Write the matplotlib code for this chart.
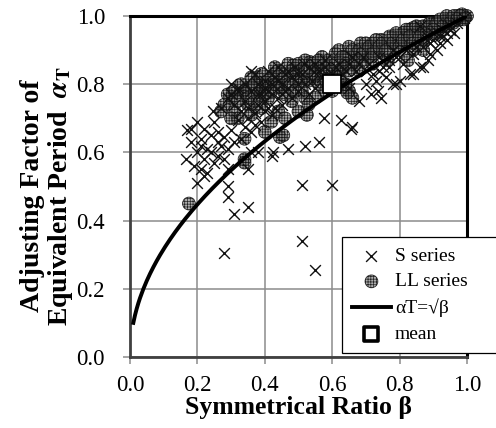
import matplotlib
matplotlib.use("Agg")
import matplotlib.pyplot as plt
import numpy as np

plt.rcParams['font.family'] = ['Liberation Serif', 'DejaVu Serif']
plt.rcParams['mathtext.fontset'] = 'stix'
plt.rcParams['hatch.linewidth'] = 0.5

# S series (beta, alpha_T)
s_beta = [0.165, 0.18, 0.20, 0.18, 0.21, 0.19, 0.21, 0.20, 0.22, 0.23, 0.25, 0.22, 0.26, 0.27, 0.28,
          0.30, 0.25, 0.245, 0.27, 0.31, 0.32, 0.34, 0.36, 0.37, 0.34, 0.30, 0.36, 0.38, 0.29, 0.17,
          0.20, 0.23, 0.24, 0.22, 0.26, 0.28, 0.29, 0.31, 0.33, 0.35, 0.32, 0.29, 0.33, 0.35, 0.38,
          0.39, 0.37, 0.26, 0.24, 0.21,
          0.28, 0.29, 0.29, 0.31, 0.35, 0.35, 0.42, 0.47, 0.52, 0.56, 0.425, 0.51, 0.55, 0.51, 0.60,
          0.40, 0.41, 0.45, 0.48, 0.515, 0.545, 0.575, 0.625, 0.655, 0.66, 0.40, 0.42, 0.43, 0.44, 0.46,
          0.38, 0.39, 0.41, 0.44, 0.47, 0.50, 0.52, 0.55, 0.57, 0.58, 0.60, 0.62, 0.64, 0.66, 0.68,
          0.50, 0.43, 0.45, 0.48, 0.36, 0.37, 0.40, 0.42, 0.53, 0.55,
          0.68, 0.715, 0.735, 0.745, 0.78, 0.79, 0.80, 0.83, 0.84, 0.86, 0.87, 0.885, 0.89, 0.92, 0.94,
          0.70, 0.72, 0.75, 0.77, 0.80, 0.82, 0.85, 0.88, 0.90, 0.93, 0.95, 0.97, 0.99, 0.76, 0.73,
          0.65, 0.63, 0.70, 0.74, 0.78, 0.96, 0.91, 0.86, 0.88, 0.90, 0.93, 0.94,
          0.34, 0.36, 0.38, 0.40, 0.41, 0.42, 0.44, 0.45, 0.46, 0.47, 0.49, 0.50, 0.51, 0.53, 0.54,
          0.56, 0.58, 0.59, 0.61, 0.63, 0.65, 0.67, 0.69, 0.71, 0.74, 0.77, 0.79, 0.81, 0.84, 0.87,
          0.89, 0.92, 0.95, 0.32, 0.30]
s_alpha = [0.58, 0.67, 0.69, 0.63, 0.64, 0.56, 0.55, 0.51, 0.53, 0.54, 0.57, 0.58, 0.63, 0.62, 0.645,
           0.665, 0.69, 0.72, 0.73, 0.74, 0.695, 0.675, 0.66, 0.715, 0.75, 0.77, 0.60, 0.60, 0.55, 0.665,
           0.60, 0.61, 0.65, 0.67, 0.59, 0.58, 0.61, 0.63, 0.64, 0.70, 0.78, 0.76, 0.72, 0.73, 0.74,
           0.69, 0.68, 0.66, 0.60, 0.62,
           0.305, 0.50, 0.47, 0.42, 0.44, 0.55, 0.59, 0.61, 0.62, 0.63, 0.60, 0.34, 0.255, 0.505, 0.505,
           0.81, 0.78, 0.80, 0.82, 0.86, 0.835, 0.70, 0.695, 0.67, 0.675, 0.75, 0.77, 0.82, 0.76, 0.78,
           0.80, 0.77, 0.84, 0.85, 0.84, 0.83, 0.80, 0.86, 0.82, 0.85, 0.83, 0.86, 0.84, 0.88, 0.86,
           0.78, 0.73, 0.74, 0.76, 0.78, 0.83, 0.72, 0.71, 0.77, 0.79,
           0.75, 0.77, 0.78, 0.76, 0.80, 0.80, 0.81, 0.83, 0.83, 0.85, 0.85, 0.87, 0.89, 0.92, 0.93,
           0.80, 0.83, 0.85, 0.87, 0.88, 0.90, 0.91, 0.93, 0.95, 0.96, 0.97, 0.98, 0.995, 0.82, 0.81,
           0.79, 0.80, 0.84, 0.88, 0.90, 0.95, 0.90, 0.97, 0.94, 0.93, 0.94, 0.95,
           0.80, 0.84, 0.77, 0.79, 0.73, 0.80, 0.81, 0.77, 0.83, 0.79, 0.85, 0.80, 0.83, 0.85, 0.81,
           0.84, 0.87, 0.82, 0.85, 0.83, 0.86, 0.84, 0.88, 0.86, 0.84, 0.85, 0.88, 0.86, 0.89, 0.91,
           0.92, 0.94, 0.96, 0.79, 0.80]

# LL series (beta, alpha_T)
ll_beta = [0.175, 0.34, 0.445, 0.40, 0.34, 0.34, 0.455, 0.525, 0.65, 0.66, 0.645,
           0.28, 0.30, 0.31, 0.33, 0.35, 0.36, 0.37, 0.38, 0.39, 0.40, 0.32, 0.35, 0.30, 0.27, 0.39, 0.41, 0.36,
           0.42, 0.43, 0.44, 0.45, 0.46, 0.47, 0.485, 0.49, 0.50, 0.51, 0.52, 0.535, 0.54, 0.55, 0.56, 0.57,
           0.58, 0.59, 0.60, 0.48, 0.50, 0.52, 0.55, 0.44, 0.46, 0.42, 0.53, 0.58,
           0.61, 0.62, 0.63, 0.64, 0.65, 0.66, 0.67, 0.685, 0.69, 0.70, 0.71, 0.72, 0.73, 0.745, 0.75, 0.765,
           0.77, 0.78, 0.79, 0.80, 0.62, 0.68, 0.72, 0.64, 0.60,
           0.81, 0.82, 0.825, 0.83, 0.84, 0.85, 0.86, 0.87, 0.88, 0.89, 0.90, 0.91, 0.92, 0.93, 0.94, 0.95,
           0.96, 0.97, 0.98, 0.99, 1.00, 0.985, 0.995, 0.87, 0.84,
           0.29, 0.31, 0.32, 0.33, 0.34, 0.35, 0.36, 0.37, 0.38, 0.39, 0.40, 0.41, 0.42, 0.43, 0.44, 0.45,
           0.46, 0.47, 0.48, 0.49, 0.50, 0.51, 0.52, 0.53, 0.54, 0.55, 0.56, 0.57, 0.58, 0.59, 0.61, 0.62,
           0.63, 0.64, 0.65, 0.66, 0.67, 0.68, 0.69, 0.70, 0.71, 0.72, 0.73, 0.74, 0.75, 0.76, 0.77, 0.78,
           0.79, 0.80, 0.81, 0.82, 0.83, 0.84, 0.85, 0.86, 0.87, 0.88, 0.89, 0.90, 0.91, 0.92, 0.93, 0.94,
           0.95, 0.96, 0.97, 0.98, 0.99]
ll_alpha = [0.45, 0.58, 0.645, 0.66, 0.57, 0.64, 0.65, 0.71, 0.78, 0.76, 0.775,
            0.74, 0.76, 0.72, 0.77, 0.79, 0.79, 0.75, 0.82, 0.78, 0.80, 0.70, 0.74, 0.70, 0.72, 0.73, 0.76, 0.71,
            0.82, 0.85, 0.79, 0.83, 0.77, 0.86, 0.855, 0.81, 0.84, 0.78, 0.87, 0.865, 0.82, 0.85, 0.80, 0.88,
            0.84, 0.87, 0.82, 0.75, 0.72, 0.76, 0.76, 0.72, 0.70, 0.69, 0.74, 0.78,
            0.89, 0.90, 0.85, 0.88, 0.91, 0.86, 0.89, 0.92, 0.87, 0.90, 0.88, 0.92, 0.90, 0.93, 0.89, 0.87,
            0.92, 0.94, 0.91, 0.93, 0.82, 0.84, 0.86, 0.80, 0.78,
            0.95, 0.92, 0.87, 0.96, 0.965, 0.94, 0.96, 0.93, 0.97, 0.96, 0.98, 0.95, 0.97, 0.98, 0.99, 0.99,
            0.98, 1.00, 0.99, 1.00, 1.00, 1.005, 0.995, 0.90, 0.90,
            0.77, 0.78, 0.75, 0.80, 0.78, 0.76, 0.82, 0.80, 0.77, 0.83, 0.77, 0.81, 0.78, 0.80, 0.84, 0.79,
            0.82, 0.80, 0.84, 0.78, 0.86, 0.82, 0.84, 0.81, 0.86, 0.83, 0.87, 0.84, 0.81, 0.85, 0.86, 0.84,
            0.88, 0.86, 0.84, 0.90, 0.87, 0.90, 0.89, 0.92, 0.91, 0.89, 0.93, 0.91, 0.92, 0.90, 0.94, 0.92,
            0.95, 0.91, 0.93, 0.96, 0.94, 0.92, 0.97, 0.94, 0.97, 0.95, 0.98, 0.96, 0.98, 0.99, 0.97, 1.00,
            0.98, 1.00, 0.99, 1.00, 0.99]

mean_beta = [0.60]
mean_alpha = [0.80]

curve_beta = np.linspace(0.01, 1.0, 200)
curve_alpha = np.sqrt(curve_beta)

fig = plt.figure(figsize=(4.96, 4.28), dpi=100)
ax = fig.add_axes([0.262, 0.166, 0.6795, 0.7966])

ax.scatter(ll_beta, ll_alpha, s=85, marker='o', facecolors=(0.42, 0.42, 0.42, 0.55),
           edgecolors=(0.05, 0.05, 0.05, 0.85), hatch='++++++', linewidths=0.6,
           label='LL series', zorder=3, clip_on=False)
ax.scatter(s_beta, s_alpha, s=60, marker='x', color='#111111', linewidths=1.0,
           label='S series', zorder=4, clip_on=False)
ax.plot(curve_beta, curve_alpha, color='black', lw=2.8, label='αT=√β', zorder=5)
ax.scatter(mean_beta, mean_alpha, s=150, marker='s', facecolors='white', edgecolors='black',
           linewidths=1.3, label='mean', zorder=6)

ax.set_xlim(0, 1)
ax.set_ylim(0, 1)
ticks = [0.0, 0.2, 0.4, 0.6, 0.8, 1.0]
tick_labels = ['0.0', '0.2', '0.4', '0.6', '0.8', '1.0']
ax.set_xticks(ticks)
ax.set_xticklabels(tick_labels)
ax.set_yticks(ticks)
ax.set_yticklabels(tick_labels)
ax.grid(True, color='#8c8c8c', lw=1.1, zorder=0)
ax.set_axisbelow(True)
ax.tick_params(axis='both', direction='out', length=5, width=1.1, color='#8c8c8c',
               labelsize=16.5, labelcolor='black')
ax.tick_params(axis='x', pad=8)
ax.tick_params(axis='y', pad=13)

for side in ['top', 'right']:
    ax.spines[side].set_color('black')
    ax.spines[side].set_linewidth(2.2)
for side in ['left', 'bottom']:
    ax.spines[side].set_color('#404040')
    ax.spines[side].set_linewidth(2.0)

ax.set_xlabel('Symmetrical Ratio β', fontsize=18.5, fontweight='bold', labelpad=0)
ax.set_ylabel('Adjusting Factor of\nEquivalent Period  $\\boldsymbol{\\alpha}_{\\mathbf{T}}$',
              fontsize=20, fontweight='bold', linespacing=1.05)
ax.yaxis.set_label_coords(-0.163, 0.472)

handles, labels = ax.get_legend_handles_labels()
order = [labels.index(l) for l in ['S series', 'LL series', 'αT=√β', 'mean']]
leg = ax.legend([handles[i] for i in order], [labels[i] for i in order],
                loc='lower left', bbox_to_anchor=(0.63, 0.012, 0.5, 0.33), mode='expand',
                fontsize=14, frameon=True, fancybox=False, edgecolor='black', framealpha=1,
                borderaxespad=0, handlelength=2.0, handletextpad=0.2,
                labelspacing=0.42, borderpad=0.5)
leg.get_frame().set_linewidth(0.9)
leg.set_zorder(10)
leg.legend_handles[3].set_linewidth(2.6)
leg.legend_handles[3].set_sizes([110])

fig.savefig('out.png', dpi=100)
